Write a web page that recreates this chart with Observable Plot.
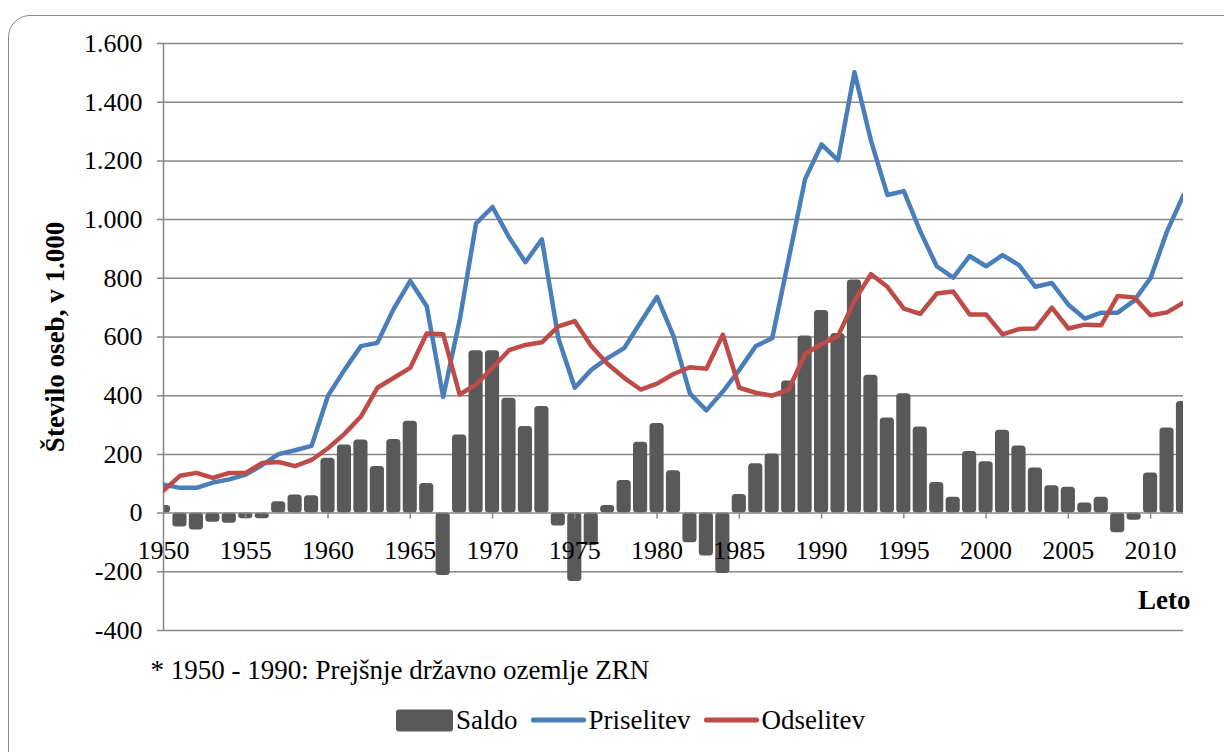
<!DOCTYPE html>
<html>
<head>
<meta charset="utf-8">
<script src="https://cdn.jsdelivr.net/npm/d3@7"></script>
<script src="https://cdn.jsdelivr.net/npm/@observablehq/plot@0.6"></script>
<style>
  html, body { margin: 0; padding: 0; background: #fff; font-family: 'Liberation Serif', 'Times New Roman', serif; }
  #wrap { position: relative; width: 1224px; height: 752px; overflow: hidden; font-family: 'Liberation Serif', 'Times New Roman', serif; }
  #frame { position: absolute; left: 8px; top: 15px; width: 1240px; height: 760px; border: 1.5px solid #8a8a8a; border-radius: 22px; box-sizing: border-box; }
  #chart { position: absolute; left: 0; top: 0; }
  #legend { position: absolute; left: 396px; top: 720px; transform: translateY(-50%); display: flex; align-items: center; font-family: 'Liberation Serif', 'Times New Roman', serif; font-size: 27px; line-height: 1; color: #000; white-space: nowrap; }
  .sw { display: inline-block; width: 57px; height: 22px; background: #595959; border-radius: 3px; }
  .ln { display: inline-block; width: 55px; height: 4.5px; border-radius: 2px; margin-left: 13px; }
  .lab { margin-left: 3px; }
</style>
</head>
<body>
<div id="wrap">
  <div id="frame"></div>
  <div id="chart"></div>
  <div id="legend">
    <span class="sw"></span><span class="lab">Saldo</span>
    <span class="ln" style="background:#4A7EBB"></span><span class="lab">Priselitev</span>
    <span class="ln" style="background:#BE4B48"></span><span class="lab">Odselitev</span>
  </div>
</div>
<script>
const years = [1950,1951,1952,1953,1954,1955,1956,1957,1958,1959,1960,1961,1962,1963,1964,1965,1966,1967,1968,1969,1970,1971,1972,1973,1974,1975,1976,1977,1978,1979,1980,1981,1982,1983,1984,1985,1986,1987,1988,1989,1990,1991,1992,1993,1994,1995,1996,1997,1998,1999,2000,2001,2002,2003,2004,2005,2006,2007,2008,2009,2010,2011,2012];
const priselitev = [97,86,86,104,115,131,164,201,214,229,400,488,569,580,697,791,705,396,656,987,1043,940,855,933,596,427,488,528,562,650,737,603,407,350,414,488,569,596,865,1138,1256,1202,1502,1270,1084,1097,960,841,802,876,841,879,845,771,784,710,663,683,683,724,801,960,1084];
const odselitev = [77,127,137,120,137,137,171,174,160,181,221,270,329,427,461,495,612,609,404,438,495,555,573,582,636,654,569,508,461,421,441,474,497,492,608,427,410,400,421,542,576,603,724,814,771,697,679,748,755,677,677,609,627,629,700,629,642,640,740,735,674,684,717];
const saldo = [26,-47,-58,-31,-35,-19,-19,39,62,59,187,232,249,159,251,313,101,-213,266,553,553,391,295,363,-44,-233,-110,26,111,241,305,144,-101,-146,-206,63,168,201,450,603,690,612,794,470,324,407,293,104,54,210,175,282,229,154,93,88,34,54,-67,-24,137,290,380];
const yTicks = [-400,-200,0,200,400,600,800,1000,1200,1400,1600];
const xTickLabels = [1950,1955,1960,1965,1970,1975,1980,1985,1990,1995,2000,2005,2010];
const xTickMarks = [1955,1960,1965,1970,1975,1980,1985,1990,1995,2000,2005,2010];
const yTitle = "Število oseb, v 1.000";
const xTitle = "Leto";
const note = "* 1950 - 1990: Prejšnje državno ozemlje ZRN";

const rows = years.map((y, i) => ({year: y, pri: priselitev[i], ods: odselitev[i], saldo: saldo[i]}));
const fmt = d => (d < 0 ? "-" : "") + String(Math.abs(d)).replace(/\B(?=(\d{3})+(?!\d))/g, ".");
const grid = "#878787";

const chart = Plot.plot({
  width: 1224,
  height: 752,
  marginLeft: 163,
  marginRight: 41,
  marginTop: 43,
  marginBottom: 122,
  style: {fontFamily: "'Liberation Serif', 'Times New Roman', serif", fontSize: "26px", color: "#000", background: "transparent"},
  x: {domain: [1950, 2012], axis: null},
  y: {domain: [-400, 1600], ticks: yTicks},
  marks: [
    Plot.ruleY(yTicks.filter(d => d !== 0), {y: d => d, stroke: grid, strokeWidth: 1.5, insetLeft: -6}),
    Plot.rectY(rows, {x1: d => d.year - 0.43, x2: d => d.year + 0.43, y1: 0, y2: "saldo", fill: "#595959", rx: 3.5, clip: true}),
    Plot.ruleY([0], {stroke: grid, strokeWidth: 1.5, insetLeft: -6}),
    Plot.ruleX([1950], {stroke: grid, strokeWidth: 1.5}),
    Plot.ruleX(xTickMarks, {x: d => d, y1: 0, y2: 0, insetBottom: -6, stroke: grid, strokeWidth: 1.5}),
    Plot.line(rows, {x: "year", y: "pri", stroke: "#4A7EBB", strokeWidth: 4.5, strokeLinejoin: "round", clip: true}),
    Plot.line(rows, {x: "year", y: "ods", stroke: "#BE4B48", strokeWidth: 4.5, strokeLinejoin: "round", clip: true}),
    Plot.axisY({ticks: yTicks, tickFormat: fmt, tickSize: 0, tickPadding: 21, label: null, fontSize: 26}),
    Plot.text(xTickLabels, {x: d => d, y: 0, text: d => String(d), dy: 38, fontSize: 26, fill: "#000"}),
    Plot.text([yTitle], {frameAnchor: "left", textAnchor: "middle", lineAnchor: "middle", rotate: -90, dx: -108, fontWeight: "bold", fontSize: 27, fill: "#000"}),
    Plot.text([xTitle], {frameAnchor: "bottom-right", textAnchor: "end", dx: 7, dy: -22, fontWeight: "bold", fontSize: 27, fill: "#000"}),
    Plot.text([note], {frameAnchor: "bottom-left", textAnchor: "start", lineAnchor: "middle", dx: -13, dy: 40, fontSize: 27, fill: "#000"})
  ]
});
document.getElementById("chart").appendChild(chart);
</script>
</body>
</html>
